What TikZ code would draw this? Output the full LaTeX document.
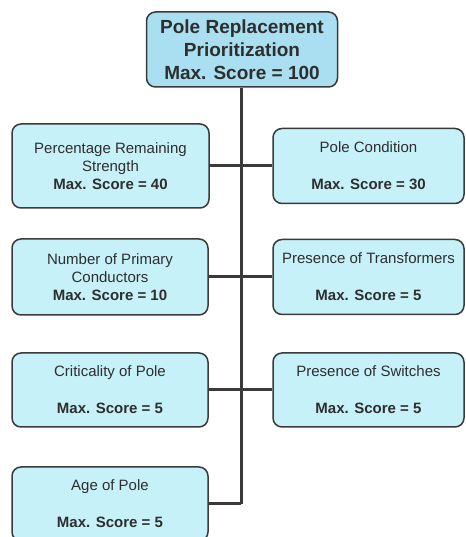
\documentclass[tikz,border=0pt]{standalone}
\usepackage{fontspec}
\setmainfont{Liberation Sans}
\definecolor{boxfill}{HTML}{C6F1F9}
\definecolor{topfill}{HTML}{A9DFF0}
\definecolor{boxline}{HTML}{3A3A3A}
\definecolor{txt}{HTML}{2E2E2E}
\begin{document}
\begin{tikzpicture}[x=1pt,y=1pt,
  box/.style={draw=boxline, line width=1.5pt, rounded corners=9pt, fill=boxfill,
    text=txt, font=\fontsize{15}{18}\selectfont, align=center, inner sep=0pt},
  lbox/.style={box, minimum width=196pt, minimum height=75pt},
  rbox/.style={box, minimum width=191pt, minimum height=75pt},
  topbox/.style={box, fill=topfill, minimum width=191pt, minimum height=75pt,
    font=\bfseries\fontsize{19}{23}\selectfont},
  conn/.style={draw=boxline, line width=3pt}]
\useasboundingbox (0,0) rectangle (465,537);
\node[topbox] (top) at (242,487.5) {Pole Replacement\\Prioritization\\Max. Score = 100};
\node[lbox, minimum width=197pt, minimum height=84pt] (pct) at (110.5,371) {Percentage Remaining\\Strength\\\textbf{Max. Score = 40}};
\node[rbox] (cond) at (368.5,371) {Pole Condition\\[19pt]\textbf{Max. Score = 30}};
\node[lbox, minimum height=76pt] (num) at (110,260) {Number of Primary\\Conductors\\\textbf{Max. Score = 10}};
\node[rbox] (trans) at (368.5,260) {Presence of Transformers\\[19pt]\textbf{Max. Score = 5}};
\node[lbox, minimum height=74pt] (crit) at (110,147) {Criticality of Pole\\[19pt]\textbf{Max. Score = 5}};
\node[rbox, minimum height=74pt] (sw) at (368.5,147) {Presence of Switches\\[19pt]\textbf{Max. Score = 5}};
\node[lbox, minimum height=74pt] (age) at (110,33) {Age of Pole\\[19pt]\textbf{Max. Score = 5}};
\coordinate (tb) at (241,33);
\draw[conn] (top.south -| tb) -- (tb);
\draw[conn] (pct) -- (cond);
\draw[conn] (num) -- (trans);
\draw[conn] (crit) -- (sw);
\draw[conn] (age) -- (tb);
\end{tikzpicture}
\end{document}
